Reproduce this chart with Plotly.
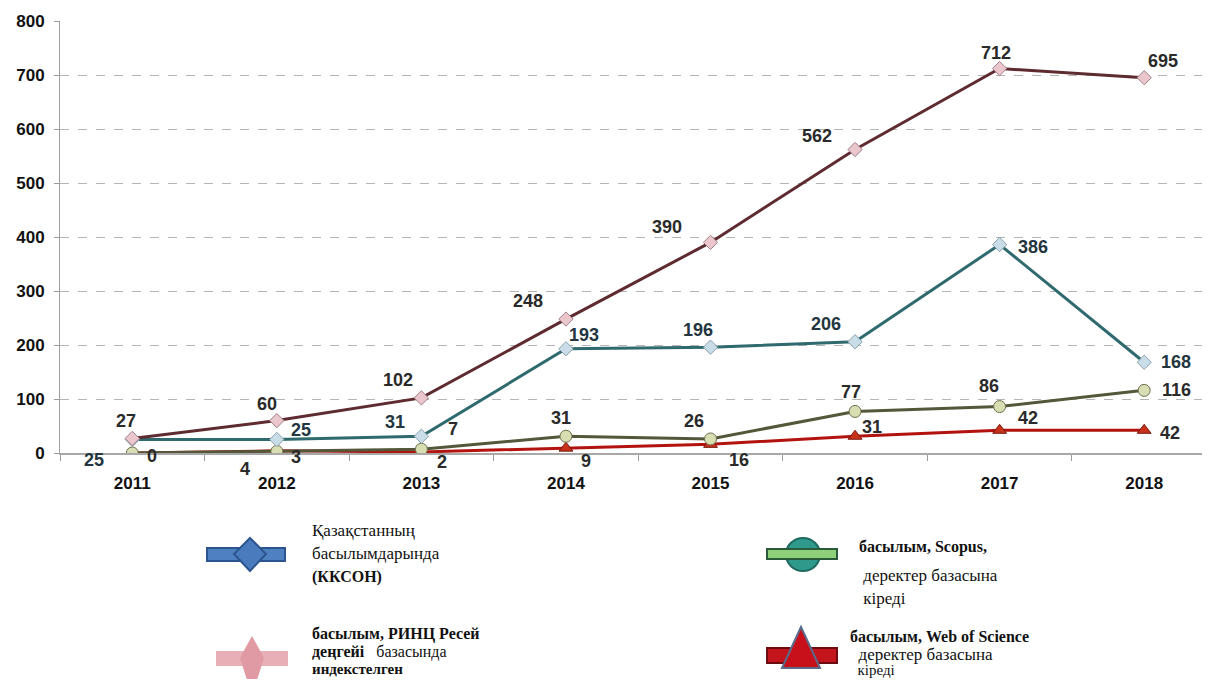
import plotly.graph_objects as go

years = ["2011", "2012", "2013", "2014", "2015", "2016", "2017", "2018"]
kkson = [25, 25, 31, 193, 196, 206, 386, 168]
rinc = [27, 60, 102, 248, 390, 562, 712, 695]
scopus = [0, 3, 7, 31, 26, 77, 86, 116]
wos = [0, 4, 2, 9, 16, 31, 42, 42]

legend_texts = {
    "kkson": ["Қазақстанның", "басылымдарында", "<b>(ККСОН)</b>"],
    "scopus": ["<b>басылым, Scopus,</b>", " деректер базасына", " кіреді"],
    "rinc": ["<b>басылым, РИНЦ Ресей</b>", "<b>деңгейі</b>   базасында", "<b>индекстелген</b>"],
    "wos": ["<b>басылым, Web of Science</b>", "  деректер базасына", "  кіреді"],
}

# label offsets in pixels (dx right, dy down) relative to each point
off_rinc = [(-6, -17), (-10, -17), (-23, -18), (-38, -18), (-44, -15), (-38, -14), (-4, -16), (19, -17)]
off_kkson = [(-38, 20), (24, -10), (-26, -14), (18, -14), (-13, -17), (-29, -18), (33, 2), (32, 0)]
off_scopus = [(20, 3), (19, 6), (32, -20), (-5, -18), (-17, -18), (-4, -19), (-11, -21), (32, 0)]
off_wos = [None, (-32, 18), (21, 10), (20, 13), (28, 16), (17, -9), (28, -12), (26, 3)]

SERIF = "Liberation Serif, DejaVu Serif, serif"

fig = go.Figure()

series = [
    (wos, "#b3130f", dict(symbol="triangle-up", size=12, color="#c8321a", line=dict(color="#7a1a10", width=1))),
    (scopus, "#55573a", dict(symbol="circle", size=12, color="#d9ddb2", line=dict(color="#6e7050", width=1))),
    (kkson, "#2f6a6e", dict(symbol="diamond", size=11, color="#c9dde9", line=dict(color="#8aa0ac", width=1))),
    (rinc, "#5e2b30", dict(symbol="diamond", size=11, color="#ebc6cc", line=dict(color="#a08088", width=1))),
]
for vals, col, mk in series:
    fig.add_trace(go.Scatter(x=years, y=vals, mode="lines+markers",
                             line=dict(color=col, width=3), marker=mk,
                             showlegend=False, hoverinfo="skip"))

label_sets = [
    (rinc, off_rinc, "#2a2a2a"),
    (kkson, off_kkson, "#23363f"),
    (scopus, off_scopus, "#2a2a2a"),
    (wos, off_wos, "#2a2a2a"),
]
for vals, offs, col in label_sets:
    for i, (v, o) in enumerate(zip(vals, offs)):
        if o is None:
            continue
        # category index as x position
        fig.add_annotation(x=i, y=v, xref="x", yref="y", text=str(v), showarrow=False,
                           xshift=o[0], yshift=-o[1],
                           font=dict(family="Liberation Sans", size=18, color=col, weight="bold"))

# page has an 8px body margin, so figure coords = screen coords - 8
PAD = 8
L, T, W, H = 52, 13, 1142, 432
FW, FH = 1194, 671


def px(x):
    return (x - PAD - L) / W


def py(y):
    return (T + H - (y - PAD)) / H


def rect(x0, y0, x1, y1, fill, edge):
    fig.add_shape(type="rect", xref="paper", yref="paper",
                  x0=px(x0), x1=px(x1), y0=py(y1), y1=py(y0),
                  fillcolor=fill, line=dict(color=edge, width=2))


def poly(pts, fill, edge):
    d = "M " + " L ".join(f"{px(a)},{py(b)}" for a, b in pts) + " Z"
    fig.add_shape(type="path", xref="paper", yref="paper", path=d,
                  fillcolor=fill, line=dict(color=edge, width=2))


# Қазақстанның (blue diamond)
rect(207, 548, 285, 561, "#4f81c0", "#2c5590")
poly([(250, 538), (266, 554), (250, 571), (234, 554)], "#4a7cbd", "#2c5590")
# Scopus (green circle)
fig.add_shape(type="circle", xref="paper", yref="paper",
              x0=px(786), x1=px(820), y0=py(571), y1=py(538),
              fillcolor="#2f9a8c", line=dict(color="#1f6a60", width=2))
rect(767, 549, 837, 559, "#8fd07a", "#2a5a3a")
# РИНЦ (pink diamond)
rect(217, 652, 287, 665, "#e8b0b6", "#e8b0b6")
poly([(252, 638), (263, 658), (252, 692), (241, 658)], "#e09aa4", "#e09aa4")
# Web of Science (red triangle)
rect(767, 648, 837, 663, "#c4141c", "#6a0c10")
poly([(801, 627), (820, 668), (782, 668)], "#c8101a", "#5a6a88")

text_blocks = [
    (legend_texts["kkson"], 310, [530, 553, 577]),
    (legend_texts["scopus"], 857, [547, 575, 598]),
    (legend_texts["rinc"], 310, [634, 652, 669]),
    (legend_texts["wos"], 848, [636, 654, 670]),
]
for lines, x0, ys in text_blocks:
    for t, yy in zip(lines, ys):
        size = 16 if t.startswith("<b>") else 17
        if yy > 665:
            size = 15
        fig.add_annotation(xref="paper", yref="paper", x=px(x0), y=py(yy),
                           text=t, showarrow=False, xanchor="left", yanchor="middle",
                           font=dict(family=SERIF, size=size, color="#111111"))

fig.update_layout(
    width=FW, height=FH,
    margin=dict(l=L, r=FW - L - W, t=T, b=FH - T - H),
    paper_bgcolor="white", plot_bgcolor="white",
    font=dict(family="Liberation Sans", color="#111111"),
)
fig.update_xaxes(type="category", range=[-0.5, 7.40], tickson="boundaries",
                 ticks="outside", ticklen=6, tickcolor="#9a9a9a",
                 showline=True, linecolor="#a8a8a8", linewidth=2,
                 showgrid=False, ticklabelstandoff=14,
                 tickfont=dict(size=17, weight="bold", color="#111111"))
fig.update_yaxes(range=[0, 800], dtick=100, ticks="outside", ticklen=5,
                 tickcolor="#9a9a9a", showline=True, linecolor="#a0a0a0", linewidth=1,
                 showgrid=True, gridcolor="#b4b4b4", griddash="dash", gridwidth=1,
                 zeroline=False, ticklabelstandoff=6,
                 tickfont=dict(size=17, weight="bold", color="#111111"))

fig.write_html("out.html")
